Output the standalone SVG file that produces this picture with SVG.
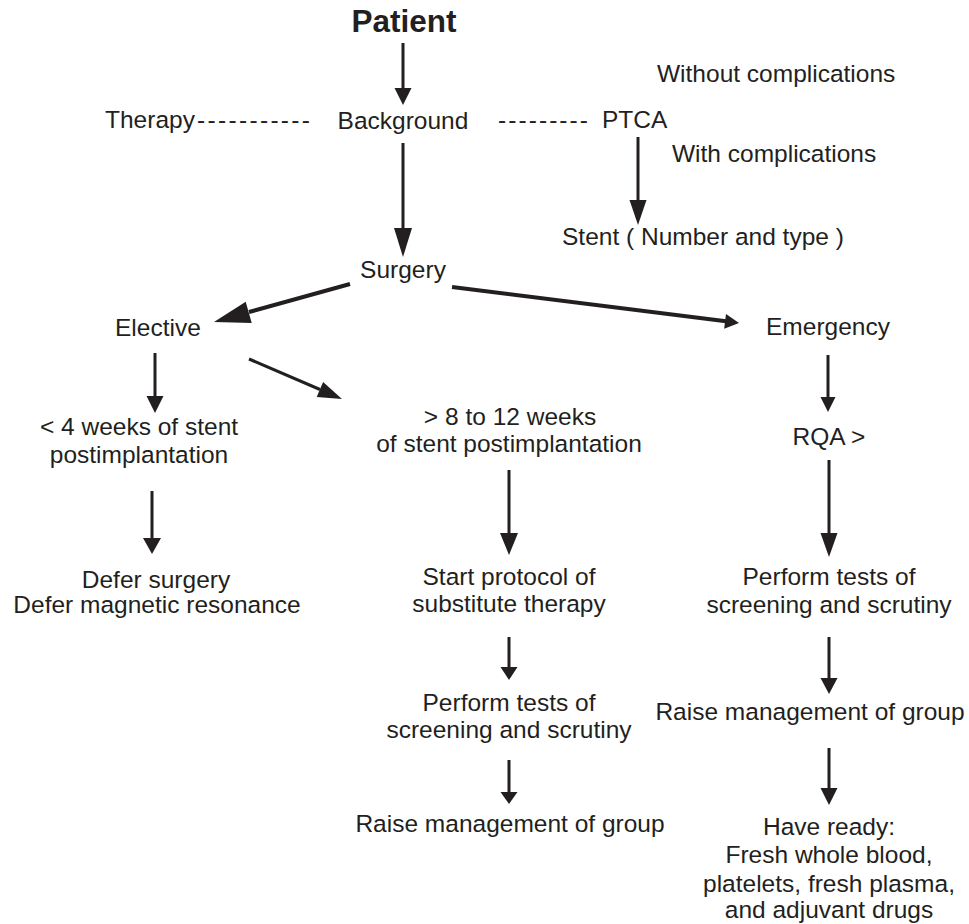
<svg xmlns="http://www.w3.org/2000/svg" width="969" height="924" viewBox="0 0 969 924">
<style>
text{font-family:"Liberation Sans",Arial,Helvetica,sans-serif;font-size:24.5px;fill:#231f20}
.b{font-weight:bold;font-size:31.5px}
.m{text-anchor:middle}
.ln{stroke:#231f20;stroke-width:3;fill:none}
.hd{fill:#231f20;stroke:none}
</style>
<rect width="969" height="924" fill="#ffffff"/>
<g id="connectors">
<line class="ln" x1="403" y1="43" x2="403" y2="90"/><polygon class="hd" points="394.5,88 411.5,88 403,105"/>
<line class="ln" x1="403" y1="143" x2="403" y2="230"/><polygon class="hd" points="394,228 412,228 403,257"/>
<line class="ln" x1="638" y1="137" x2="638" y2="202"/><polygon class="hd" points="629.5,200 646.5,200 638,225"/>
<line class="ln" x1="350" y1="284" x2="249" y2="312" style="stroke-width:4"/><polygon class="hd" points="251.7,322.9 245.7,301.7 214,322"/>
<line class="ln" x1="452" y1="287" x2="726" y2="321.3" style="stroke-width:4"/><polygon class="hd" points="724.2,328.7 726,313.9 739,323"/>
<line class="ln" x1="249" y1="359" x2="320" y2="389.5"/><polygon class="hd" points="316.7,396.9 323.1,382.1 342,399"/>
<line class="ln" x1="155" y1="353" x2="155" y2="398"/><polygon class="hd" points="146.5,396 163.5,396 155,413"/>
<line class="ln" x1="152" y1="491" x2="152" y2="540"/><polygon class="hd" points="143,538 161,538 152,554"/>
<line class="ln" x1="509" y1="470" x2="509" y2="535"/><polygon class="hd" points="500,533 518,533 509,555"/>
<line class="ln" x1="509" y1="637" x2="509" y2="669"/><polygon class="hd" points="500.5,667 517.5,667 509,680"/>
<line class="ln" x1="509" y1="760" x2="509" y2="794"/><polygon class="hd" points="500.5,792 517.5,792 509,804"/>
<line class="ln" x1="828" y1="355" x2="828" y2="399"/><polygon class="hd" points="820.5,397 835.5,397 828,412"/>
<line class="ln" x1="829" y1="460" x2="829" y2="535"/><polygon class="hd" points="820.5,533 837.5,533 829,557"/>
<line class="ln" x1="829" y1="637" x2="829" y2="680"/><polygon class="hd" points="820.5,678 837.5,678 829,694"/>
<line class="ln" x1="829" y1="748" x2="829" y2="790"/><polygon class="hd" points="820.5,788 837.5,788 829,805"/>
</g>
<g id="patient"><text class="b m" x="404" y="32">Patient</text></g>
<g id="therapy"><text x="105" y="128">Therapy</text><text x="197" y="128" textLength="113" lengthAdjust="spacing">-----------</text></g>
<g id="background"><text class="m" x="403" y="129">Background</text></g>
<g id="ptca"><text x="498" y="128" textLength="90" lengthAdjust="spacing">---------</text><text x="602" y="128">PTCA</text></g>
<g id="without"><text x="657" y="82">Without complications</text></g>
<g id="with"><text x="672" y="162">With complications</text></g>
<g id="stent"><text x="562" y="245">Stent ( Number and type )</text></g>
<g id="surgery"><text class="m" x="403" y="278">Surgery</text></g>
<g id="elective"><text x="115" y="336">Elective</text></g>
<g id="emergency"><text x="766" y="335">Emergency</text></g>
<g id="lt4"><text class="m" x="139" y="435">&lt; 4 weeks of stent</text><text class="m" x="139" y="463">postimplantation</text></g>
<g id="gt8"><text class="m" x="510" y="425">&gt; 8 to 12 weeks</text><text class="m" x="509" y="452">of stent postimplantation</text></g>
<g id="rqa"><text class="m" x="829" y="445">RQA &gt;</text></g>
<g id="defer"><text class="m" x="156" y="588">Defer surgery</text><text class="m" x="157" y="613">Defer magnetic resonance</text></g>
<g id="protocol"><text class="m" x="509" y="585">Start protocol of</text><text class="m" x="509" y="612">substitute therapy</text></g>
<g id="tests-mid"><text class="m" x="509" y="711">Perform tests of</text><text class="m" x="509" y="738">screening and scrutiny</text></g>
<g id="raise-mid"><text class="m" x="510" y="832">Raise management of group</text></g>
<g id="tests-right"><text class="m" x="829" y="585">Perform tests of</text><text class="m" x="829" y="613">screening and scrutiny</text></g>
<g id="raise-right"><text class="m" x="810" y="720">Raise management of group</text></g>
<g id="ready"><text class="m" x="829" y="835">Have ready:</text><text class="m" x="829" y="863">Fresh whole blood,</text><text class="m" x="829" y="892">platelets, fresh plasma,</text><text class="m" x="829" y="918">and adjuvant drugs</text></g>
</svg>
